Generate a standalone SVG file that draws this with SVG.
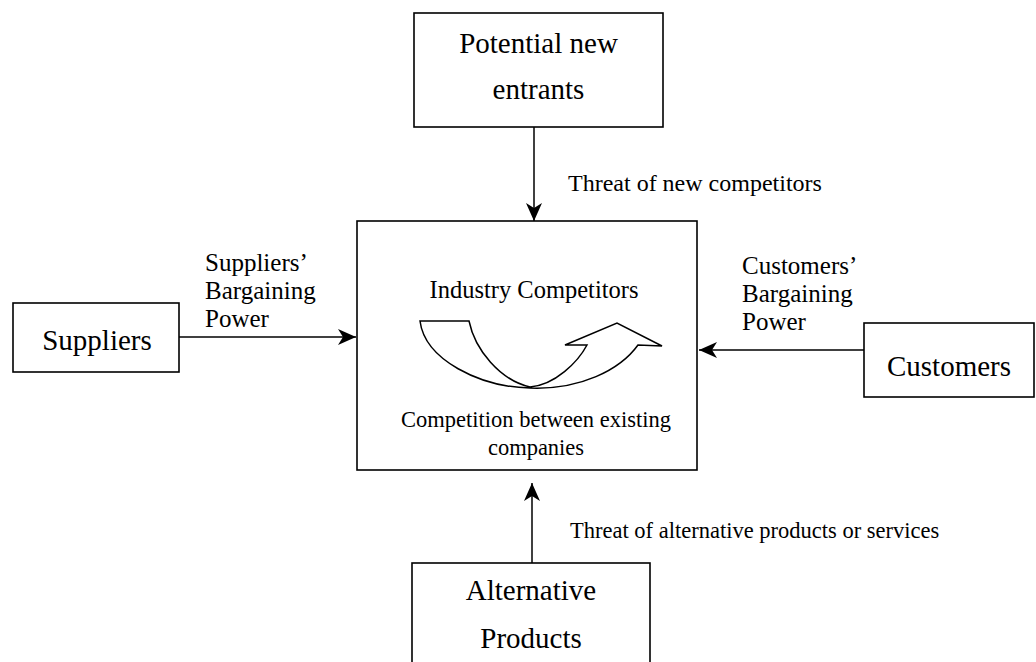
<svg xmlns="http://www.w3.org/2000/svg" width="1036" height="662" viewBox="0 0 1036 662">
<defs>
<marker id="ah" viewBox="0 0 18 16" refX="18" refY="8" markerWidth="18" markerHeight="16" markerUnits="userSpaceOnUse" orient="auto"><path d="M0,0 L18,8 L0,16 L5,8 Z" fill="#000"/></marker>
</defs>
<style>
.box{fill:#fff;stroke:#000;stroke-width:1.6}
.t{font-family:"Liberation Serif","Times New Roman",serif;fill:#000}
.node{font-size:29px;text-anchor:middle}
.lab{font-size:25px}
.conn line{stroke:#000;stroke-width:1.5;fill:none;marker-end:url(#ah)}
.curve{fill:#fff;stroke:#000;stroke-width:1.5;stroke-linejoin:miter}
</style>
<rect width="1036" height="662" fill="#fff"/>
<g id="connectors" class="conn">
<line x1="534" y1="127" x2="534" y2="221"/>
<line x1="179" y1="337" x2="356" y2="337"/>
<line x1="864" y1="350" x2="699" y2="350"/>
<line x1="532" y1="563" x2="532" y2="483"/>
</g>
<g id="labels" class="t">
<text x="568" y="191" font-size="24">Threat of new competitors</text>
<text class="lab" x="205" y="271">Suppliers’</text>
<text class="lab" x="205" y="299">Bargaining</text>
<text class="lab" x="205" y="327">Power</text>
<text class="lab" x="742" y="274">Customers’</text>
<text class="lab" x="742" y="302">Bargaining</text>
<text class="lab" x="742" y="330">Power</text>
<text x="570" y="538" font-size="22.5">Threat of alternative products or services</text>
</g>
<g id="node-entrants">
<rect class="box" x="414" y="13" width="249" height="114"/>
<text class="t node" x="538.5" y="53">Potential new</text>
<text class="t node" x="538.5" y="99">entrants</text>
</g>
<g id="node-industry">
<rect class="box" x="357" y="221" width="340" height="249"/>
<text class="t" x="534" y="298" font-size="24.5" text-anchor="middle">Industry Competitors</text>
<path class="curve" d="M420,321 L469,321 C475,350 500,380 530,387 C555,385 578,362 587,345 L565,345 L617,323 L662,346 L638,345 C620,370 580,390 530,388 C480,387 425,360 420,321 Z"/>
<text class="t" x="536" y="427" font-size="22.5" text-anchor="middle">Competition between existing</text>
<text class="t" x="536" y="455" font-size="22.5" text-anchor="middle">companies</text>
</g>
<g id="node-suppliers">
<rect class="box" x="13" y="303" width="166" height="69"/>
<text class="t node" x="97" y="350">Suppliers</text>
</g>
<g id="node-customers">
<rect class="box" x="864" y="323" width="170" height="74"/>
<text class="t node" x="949" y="376">Customers</text>
</g>
<g id="node-alternative">
<rect class="box" x="412" y="563" width="238" height="110"/>
<text class="t node" x="531" y="600">Alternative</text>
<text class="t node" x="531" y="648">Products</text>
</g>
</svg>
